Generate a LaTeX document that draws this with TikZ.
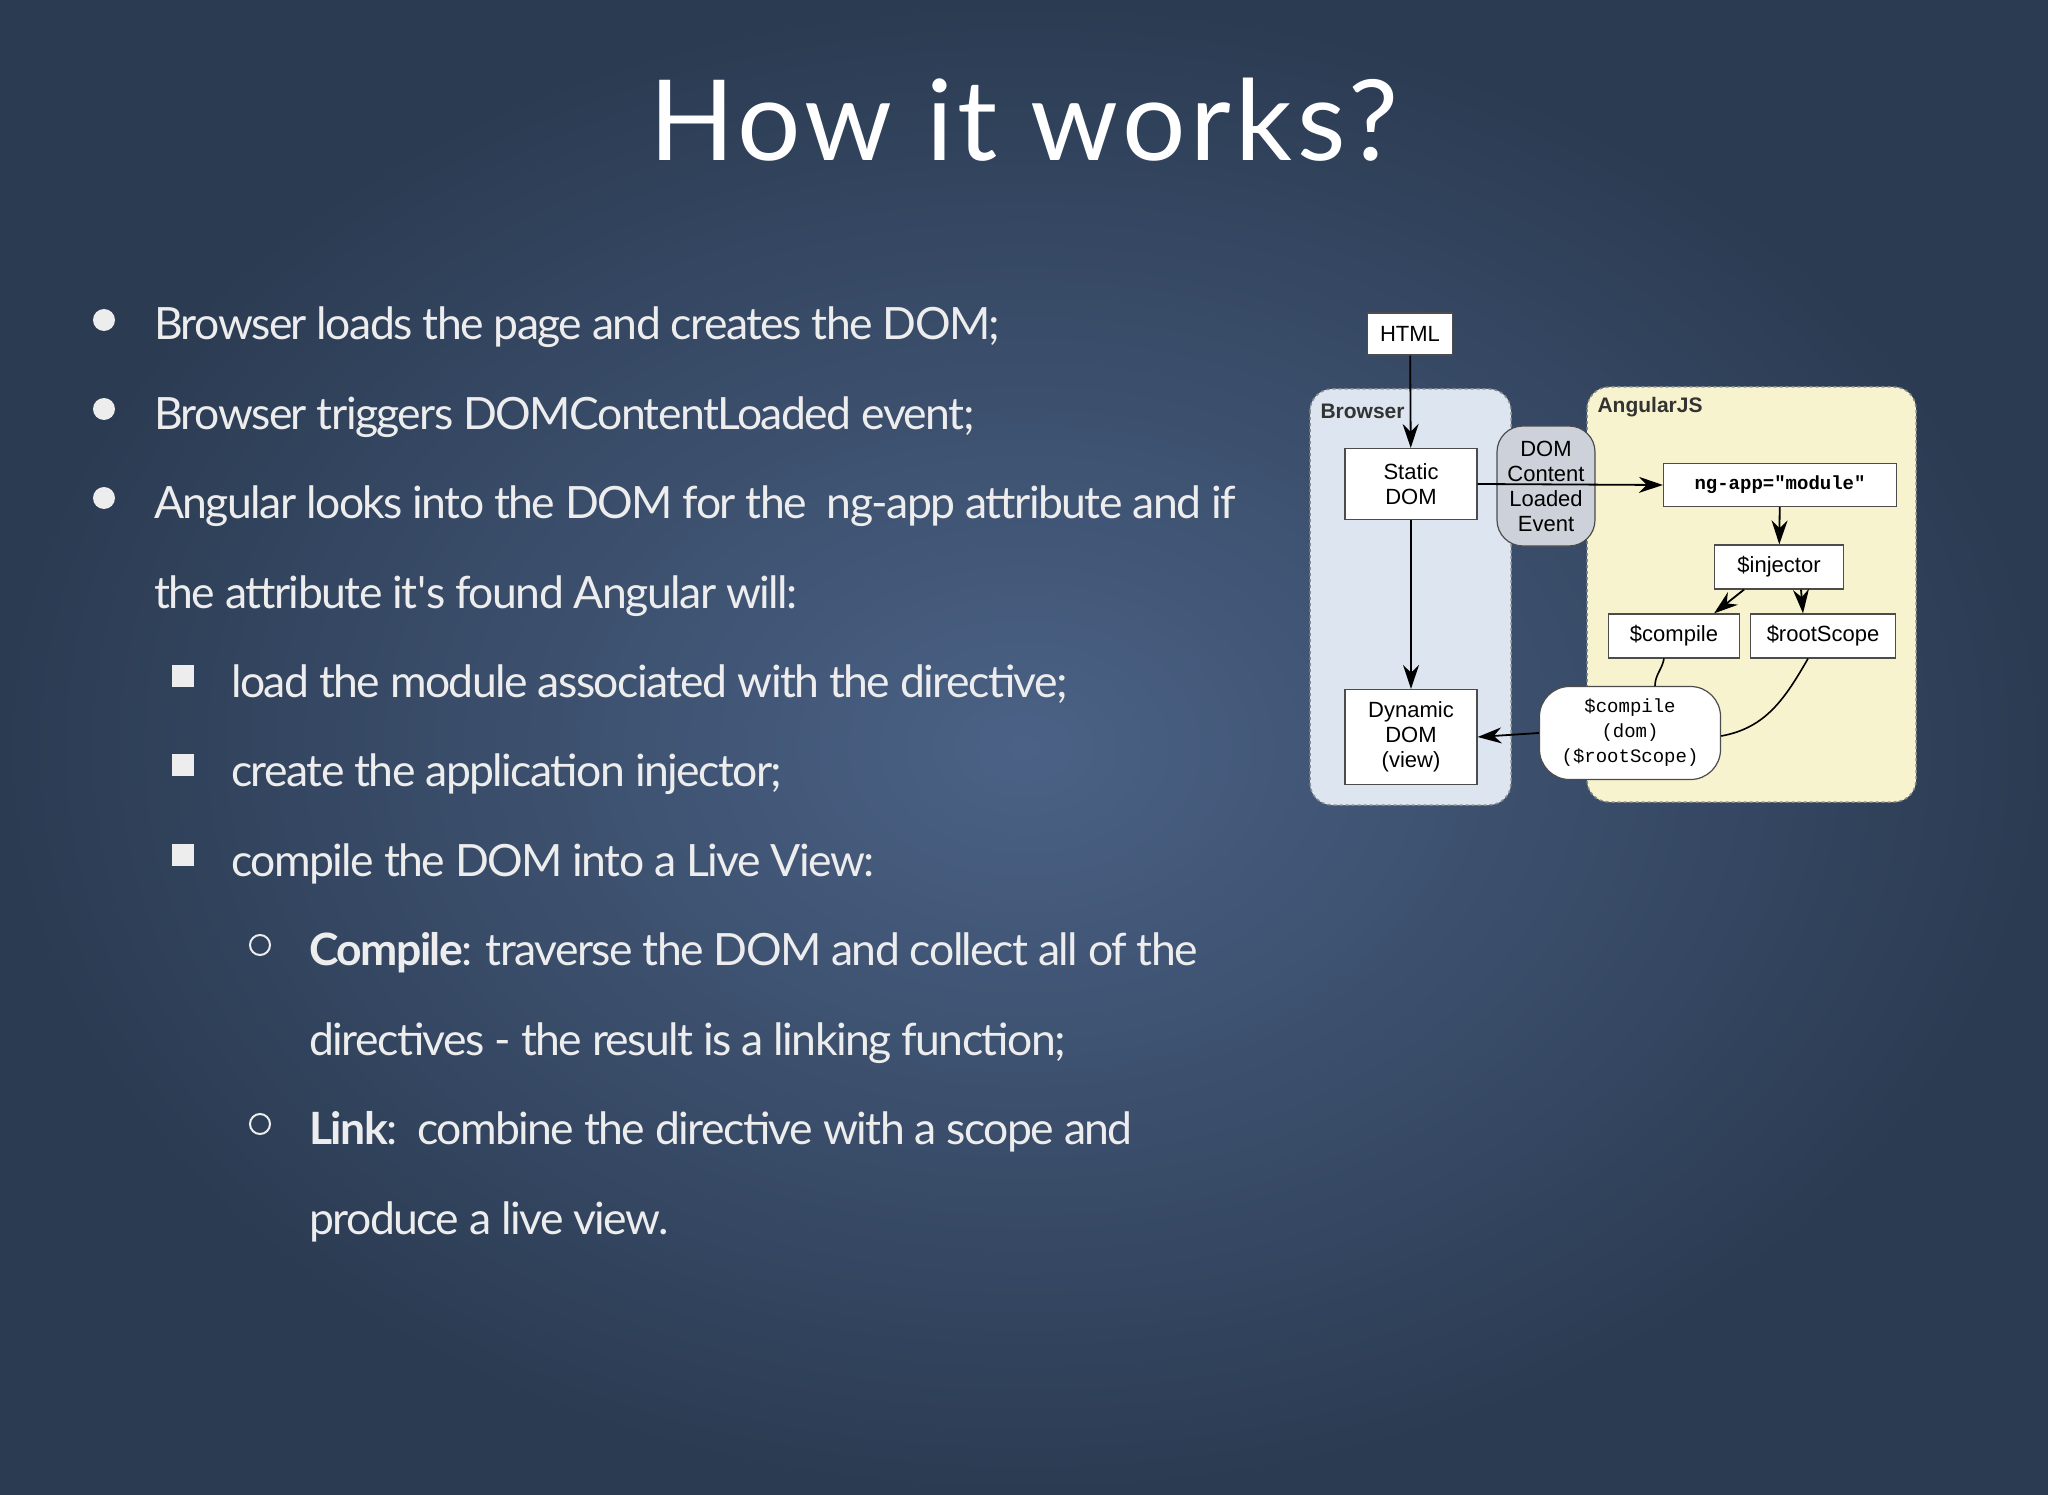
\documentclass[tikz,border=0pt]{standalone}
\usepackage{fontspec}
\setmainfont{Lato}
\newfontfamily\diagfont{Liberation Sans}
\newfontfamily\monofont{Liberation Mono}
\usetikzlibrary{arrows.meta}
\definecolor{bgin}{HTML}{4B6286}
\definecolor{bgout}{HTML}{2B3B52}
\definecolor{browserbg}{HTML}{DCE5F0}
\definecolor{angbg}{HTML}{F7F3CF}
\definecolor{evbg}{HTML}{CDD2DA}
\tikzset{
  bodytxt/.style={anchor=base west,text=white!93!black,font=\fontsize{44.5}{50}\selectfont\addfontfeatures{LetterSpace=-3.5},inner sep=0},
  dot/.style={circle,fill=white!93!black,minimum size=22pt,inner sep=0},
  sq/.style={fill=white!93!black,minimum size=22pt,inner sep=0},
  ring/.style={circle,draw=white!93!black,line width=2pt,minimum size=20pt,inner sep=0},
  box/.style={draw=black!70,fill=white,line width=1.2pt,font=\diagfont\fontsize{22}{25}\selectfont,align=center,inner sep=0},
  region/.style={draw=black!45,dashed,line width=1.5pt,rounded corners=22pt},
  arr/.style={-{Stealth[length=24pt,width=16pt]},line width=1.8pt},
  ln/.style={line width=1.6pt}
}
\begin{document}
\begin{tikzpicture}[x=1pt,y=-1pt]
\shade[inner color=bgin,outer color=bgout] (0,0) rectangle (2048,1495);
\useasboundingbox (0,0) rectangle (2048,1495);
\node[text=white,font=\fontsize{112}{120}\selectfont\addfontfeatures{LetterSpace=4}] (title) at (1024,120) {How it works?};
% bullets
\node[dot] (b1) at (104,320) {};
\node[bodytxt] (t1) at (154,340) {Browser loads the page and creates the DOM;};
\node[dot] (b2) at (104,409) {};
\node[bodytxt] (t2) at (154,429) {Browser triggers DOMContentLoaded event;};
\node[dot] (b3) at (104,498) {};
\node[bodytxt] (t3) at (154,518) {Angular looks into the DOM for the\ \ ng-app attribute and if};
\node[bodytxt] (t3b) at (154,608) {the attribute it\textquotesingle s found Angular will:};
\node[sq] (s1) at (183,676) {};
\node[bodytxt] (t4) at (231,697) {load the module associated with the directive;};
\node[sq] (s2) at (183,765) {};
\node[bodytxt] (t5) at (231,786) {create the application injector;};
\node[sq] (s3) at (183,855) {};
\node[bodytxt] (t6) at (231,876) {compile the DOM into a Live View:};
\node[ring] (r1) at (260,945) {};
\node[bodytxt] (t7) at (309,965) {\textbf{Compile}: traverse the DOM and collect all of the};
\node[bodytxt] (t7b) at (309,1055) {directives - the result is a linking function;};
\node[ring] (r2) at (260,1124) {};
\node[bodytxt] (t8) at (309,1144) {\textbf{Link}:\ \ combine the directive with a scope and};
\node[bodytxt] (t8b) at (309,1234) {produce a live view.};
% diagram regions
\draw[region,fill=browserbg] (1310,389) rectangle (1511,805);
\draw[region,fill=angbg] (1587,387) rectangle (1916,802);
\node[anchor=west,font=\diagfont\bfseries\fontsize{21}{24}\selectfont,text=black!80] (brl) at (1317,411) {Browser};
\node[anchor=west,font=\diagfont\bfseries\fontsize{21}{24}\selectfont,text=black!80] (anl) at (1594,407) {AngularJS};
% nodes
\node[box,minimum width=85pt,minimum height=42pt] (html) at (1410,334) {HTML};
\node[box,minimum width=132pt,minimum height=71pt] (static) at (1411,484) {Static\\DOM};
\node[box,minimum width=132pt,minimum height=95pt] (dyn) at (1411,737) {Dynamic\\DOM\\(view)};
\node[box,fill=evbg,rounded corners=26pt,minimum width=98pt,minimum height=120pt,font=\diagfont\fontsize{22}{25}\selectfont] (ev) at (1546,486) {DOM\\Content\\Loaded\\Event};
\node[box,minimum width=233pt,minimum height=43pt,font=\monofont\bfseries\fontsize{19}{22}\selectfont] (ng) at (1780,485) {ng-app="module"};
\node[box,minimum width=129pt,minimum height=44pt] (inj) at (1779,567) {\$injector};
\node[box,minimum width=131pt,minimum height=44pt] (comp) at (1674,636) {\$compile};
\node[box,minimum width=145pt,minimum height=44pt] (root) at (1823,636) {\$rootScope};
\node[box,rounded corners=30pt,minimum width=181pt,minimum height=93pt,font=\monofont\fontsize{19}{25}\selectfont] (call) at (1630,733) {\$compile\\(dom)\\(\$rootScope)};
% connectors
\draw[arr] (html) -- (static);
\draw[arr] (static) -- (dyn);
\draw[arr] (static.east) -- (ng.west);
\draw[arr] (ng) -- (inj);
\draw[arr] ([xshift=-35pt]inj.south) -- ([xshift=40pt]comp.north);
\draw[arr] ([xshift=22pt]inj.south) -- ([xshift=-20pt]root.north);
\draw[arr] (call.west) -- (dyn.east);
\draw[ln] ([xshift=-10pt]comp.south) to[out=-100,in=90] ([xshift=25pt]call.north);
\draw[ln] ([xshift=-15pt]root.south) to[out=-120,in=10] ([yshift=-3pt]call.east);
\end{tikzpicture}
\end{document}
